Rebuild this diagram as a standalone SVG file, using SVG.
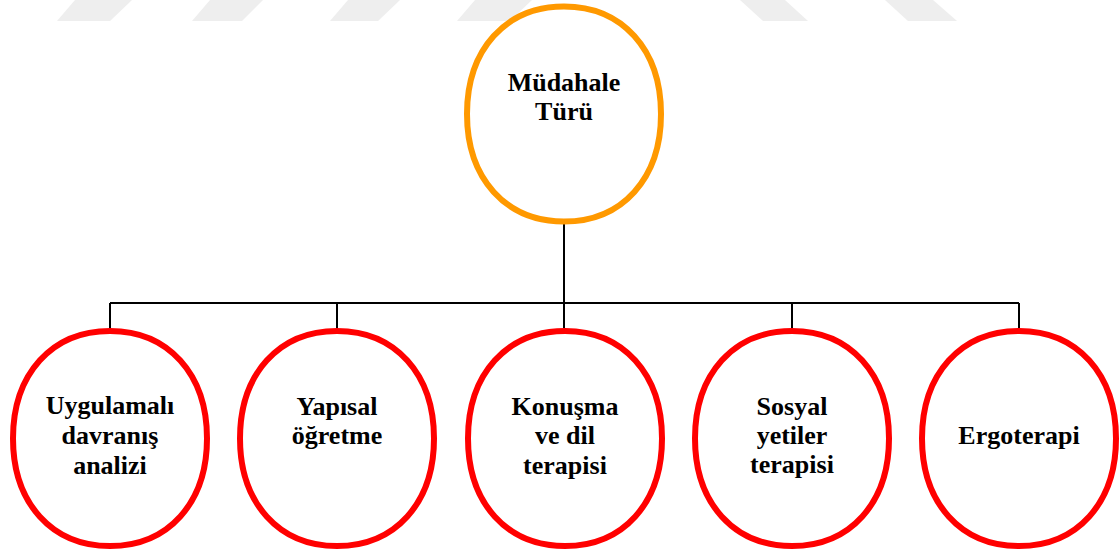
<svg xmlns="http://www.w3.org/2000/svg" xmlns:xlink="http://www.w3.org/1999/xlink" width="1119" height="551" viewBox="0 0 1119 551">
<style>
.wm{fill:#eeeeee}
.node{fill:#ffffff;stroke-width:6}
.root{stroke:#ff9900}
.child{stroke:#ff0000}
.conn{stroke:#000000;stroke-width:2;fill:none}
.lbl{font-family:'Liberation Serif','DejaVu Serif',serif;font-weight:bold;font-size:26px;fill:#000000;text-anchor:middle}
</style>
<defs>
<path id="oval" d="M0,-107.5 C58.2,-107.5 97,-64.5 97,0 C97,64.5 58.2,107.5 0,107.5 C-58.2,107.5 -97,64.5 -97,0 C-97,-64.5 -58.2,-107.5 0,-107.5 Z"/>
</defs>
<rect width="1119" height="551" fill="#ffffff"/>
<g id="watermark">
<polygon class="wm" points="75,0 132,0 110,21 57,21"/>
<polygon class="wm" points="210,0 263,0 242,21 192,21"/>
<polygon class="wm" points="348,0 400,0 378,21 330,21"/>
<polygon class="wm" points="475,0 532,0 510,21 457,21"/>
<polygon class="wm" points="740,0 785,0 808,21 763,21"/>
<polygon class="wm" points="885,0 933,0 957,21 908,21"/>
</g>
<g id="connectors">
<path class="conn" d="M564,224 V303"/>
<path class="conn" d="M110,303 H1019"/>
<path class="conn" d="M110,303 V328 M337,303 V328 M564,303 V328 M792,303 V328 M1019,303 V328"/>
</g>
<g id="n-mudahale">
<use xlink:href="#oval" class="node root" x="564" y="114"/>
<text class="lbl" font-family="Liberation Serif, serif" x="564" y="91">Müdahale</text>
<text class="lbl" font-family="Liberation Serif, serif" x="564" y="120">Türü</text>
</g>
<g id="n-uygulamali">
<use xlink:href="#oval" class="node child" x="110" y="438.5"/>
<text class="lbl" x="110" y="414">Uygulamalı</text>
<text class="lbl" x="110" y="444">davranış</text>
<text class="lbl" x="110" y="474">analizi</text>
</g>
<g id="n-yapisal">
<use xlink:href="#oval" class="node child" x="337" y="438.5"/>
<text class="lbl" x="337" y="415">Yapısal</text>
<text class="lbl" x="337" y="444">öğretme</text>
</g>
<g id="n-konusma">
<use xlink:href="#oval" class="node child" x="565" y="438.5"/>
<text class="lbl" x="565" y="415">Konuşma</text>
<text class="lbl" x="565" y="444">ve dil</text>
<text class="lbl" x="565" y="474">terapisi</text>
</g>
<g id="n-sosyal">
<use xlink:href="#oval" class="node child" x="792" y="438.5"/>
<text class="lbl" x="792" y="415">Sosyal</text>
<text class="lbl" x="792" y="444">yetiler</text>
<text class="lbl" x="792" y="473">terapisi</text>
</g>
<g id="n-ergoterapi">
<use xlink:href="#oval" class="node child" x="1019" y="438.5"/>
<text class="lbl" x="1019" y="444">Ergoterapi</text>
</g>
</svg>
